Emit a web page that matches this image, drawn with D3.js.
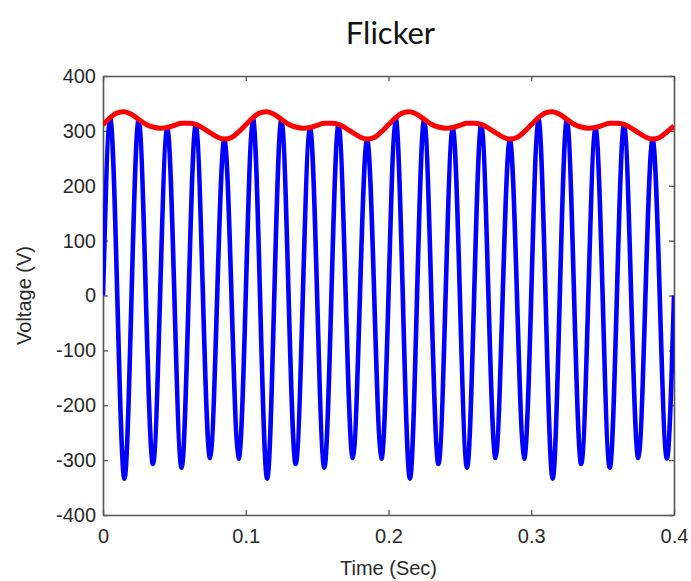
<!DOCTYPE html>
<html>
<head>
<meta charset="utf-8">
<script src="https://cdn.jsdelivr.net/npm/d3@7"></script>
<style>
  html, body { margin: 0; padding: 0; background: #fff; }
  svg { display: block; }
</style>
</head>
<body>
<div id="chart"></div>
<script>
// ---- Data ----
const chartTitle = "Flicker";
const xLabel = "Time (Sec)";
const yLabel = "Voltage (V)";
const xTicks = [0, 0.1, 0.2, 0.3, 0.4];
const yTicks = [-400, -300, -200, -100, 0, 100, 200, 300, 400];

// sample instants (s): zero crossings and extremes of the 50 Hz wave
const timeSec = [
  0.000, 0.005, 0.010, 0.015, 0.020, 0.025, 0.030, 0.035, 0.040, 0.045,
  0.050, 0.055, 0.060, 0.065, 0.070, 0.075, 0.080, 0.085, 0.090, 0.095,
  0.100, 0.105, 0.110, 0.115, 0.120, 0.125, 0.130, 0.135, 0.140, 0.145,
  0.150, 0.155, 0.160, 0.165, 0.170, 0.175, 0.180, 0.185, 0.190, 0.195,
  0.200, 0.205, 0.210, 0.215, 0.220, 0.225, 0.230, 0.235, 0.240, 0.245,
  0.250, 0.255, 0.260, 0.265, 0.270, 0.275, 0.280, 0.285, 0.290, 0.295,
  0.300, 0.305, 0.310, 0.315, 0.320, 0.325, 0.330, 0.335, 0.340, 0.345,
  0.350, 0.355, 0.360, 0.365, 0.370, 0.375, 0.380, 0.385, 0.390, 0.395,
  0.400
];

// instantaneous voltage (blue) at those instants
const voltage = [
  0, 322, 0, -334, 0, 320, 0, -307, 0, 305,
  0, -314, 0, 311, 0, -296, 0, 284, 0, -297,
  0, 322, 0, -334, 0, 320, 0, -307, 0, 305,
  0, -314, 0, 311, 0, -296, 0, 284, 0, -297,
  0, 322, 0, -334, 0, 320, 0, -307, 0, 305,
  0, -314, 0, 311, 0, -296, 0, 284, 0, -297,
  0, 322, 0, -334, 0, 320, 0, -307, 0, 305,
  0, -314, 0, 311, 0, -296, 0, 284, 0, -297,
  0
];

// envelope (red) at those instants
const envelope = [
  311, 324, 333, 335, 330, 321, 312, 307, 305, 306,
  310, 314, 314, 312, 305, 297, 289, 285, 288, 298,
  311, 324, 333, 335, 330, 321, 312, 307, 305, 306,
  310, 314, 314, 312, 305, 297, 289, 285, 288, 298,
  311, 324, 333, 335, 330, 321, 312, 307, 305, 306,
  310, 314, 314, 312, 305, 297, 289, 285, 288, 298,
  311, 324, 333, 335, 330, 321, 312, 307, 305, 306,
  310, 314, 314, 312, 305, 297, 289, 285, 288, 298,
  309
];

// ---- Layout ----
const W = 691, H = 581;
const margin = { left: 103, right: 17, top: 76, bottom: 66 };
const iw = W - margin.left - margin.right;
const ih = H - margin.top - margin.bottom;

const svg = d3.select("#chart").append("svg")
  .attr("width", W).attr("height", H);

const x = d3.scaleLinear().domain([0, 0.4]).range([0, iw]);
const y = d3.scaleLinear().domain([-400, 400]).range([ih, 0]);

const g = svg.append("g").attr("transform", `translate(${margin.left},${margin.top})`);

const axisColor = "#555";
const labelFont = "'Liberation Sans', Arial, sans-serif";

// axes (MATLAB-style inward ticks, mirrored box)
const fmtX = d => d === 0 ? "0" : d3.format(".1f")(d);
const fmtY = d => String(d);   // plain hyphen-minus like the reference
const xAxis = g.append("g").attr("transform", `translate(0,${ih})`)
  .call(d3.axisBottom(x).tickValues(xTicks).tickFormat(fmtX).tickSize(-5).tickSizeOuter(0).tickPadding(14));
const yAxis = g.append("g")
  .call(d3.axisLeft(y).tickValues(yTicks).tickFormat(fmtY).tickSize(-5).tickSizeOuter(0).tickPadding(7));
const xTop = g.append("g")
  .call(d3.axisTop(x).tickValues(xTicks).tickFormat("").tickSize(-5).tickSizeOuter(0));
const yRight = g.append("g").attr("transform", `translate(${iw},0)`)
  .call(d3.axisRight(y).tickValues(yTicks).tickFormat("").tickSize(-5).tickSizeOuter(0));

[xAxis, yAxis, xTop, yRight].forEach(a => {
  a.selectAll("path.domain").attr("stroke", axisColor).attr("stroke-width", 1.6);
  a.selectAll(".tick line").attr("stroke", axisColor).attr("stroke-width", 1.3);
  a.selectAll(".tick text").attr("fill", "#2a2a2a")
    .style("font-family", labelFont).style("font-size", "20px");
});

// blue waveform
const clipId = "plotclip";
svg.append("defs").append("clipPath").attr("id", clipId)
  .append("rect").attr("x", 0).attr("y", -10).attr("width", iw).attr("height", ih + 20);

const pts = timeSec.map((t, i) => ({ t, v: voltage[i], e: envelope[i] }));

g.append("path")
  .datum(pts)
  .attr("clip-path", `url(#${clipId})`)
  .attr("fill", "none")
  .attr("stroke", "#0000ff")
  .attr("stroke-width", 4.6)
  .attr("stroke-linejoin", "round")
  .attr("d", d3.line().x(d => x(d.t)).y(d => y(d.v)).curve(d3.curveNatural));

// red envelope
g.append("path")
  .datum(pts)
  .attr("clip-path", `url(#${clipId})`)
  .attr("fill", "none")
  .attr("stroke", "#ff0000")
  .attr("stroke-width", 5)
  .attr("stroke-linejoin", "round")
  .attr("d", d3.line().x(d => x(d.t)).y(d => y(d.e)).curve(d3.curveMonotoneX));

// labels
svg.append("text")
  .attr("x", margin.left + iw / 2 + 2).attr("y", 44)
  .attr("text-anchor", "middle")
  .style("font-family", "Lato, 'Open Sans', sans-serif")
  .style("font-size", "31px")
  .attr("fill", "#111")
  .text(chartTitle);

svg.append("text")
  .attr("x", margin.left + iw / 2).attr("y", 575)
  .attr("text-anchor", "middle")
  .style("font-family", labelFont)
  .style("font-size", "20px")
  .attr("fill", "#2a2a2a")
  .text(xLabel);

svg.append("text")
  .attr("transform", `translate(31,${margin.top + ih / 2}) rotate(-90)`)
  .attr("text-anchor", "middle")
  .style("font-family", labelFont)
  .style("font-size", "20px")
  .attr("fill", "#2a2a2a")
  .text(yLabel);
</script>
</body>
</html>
